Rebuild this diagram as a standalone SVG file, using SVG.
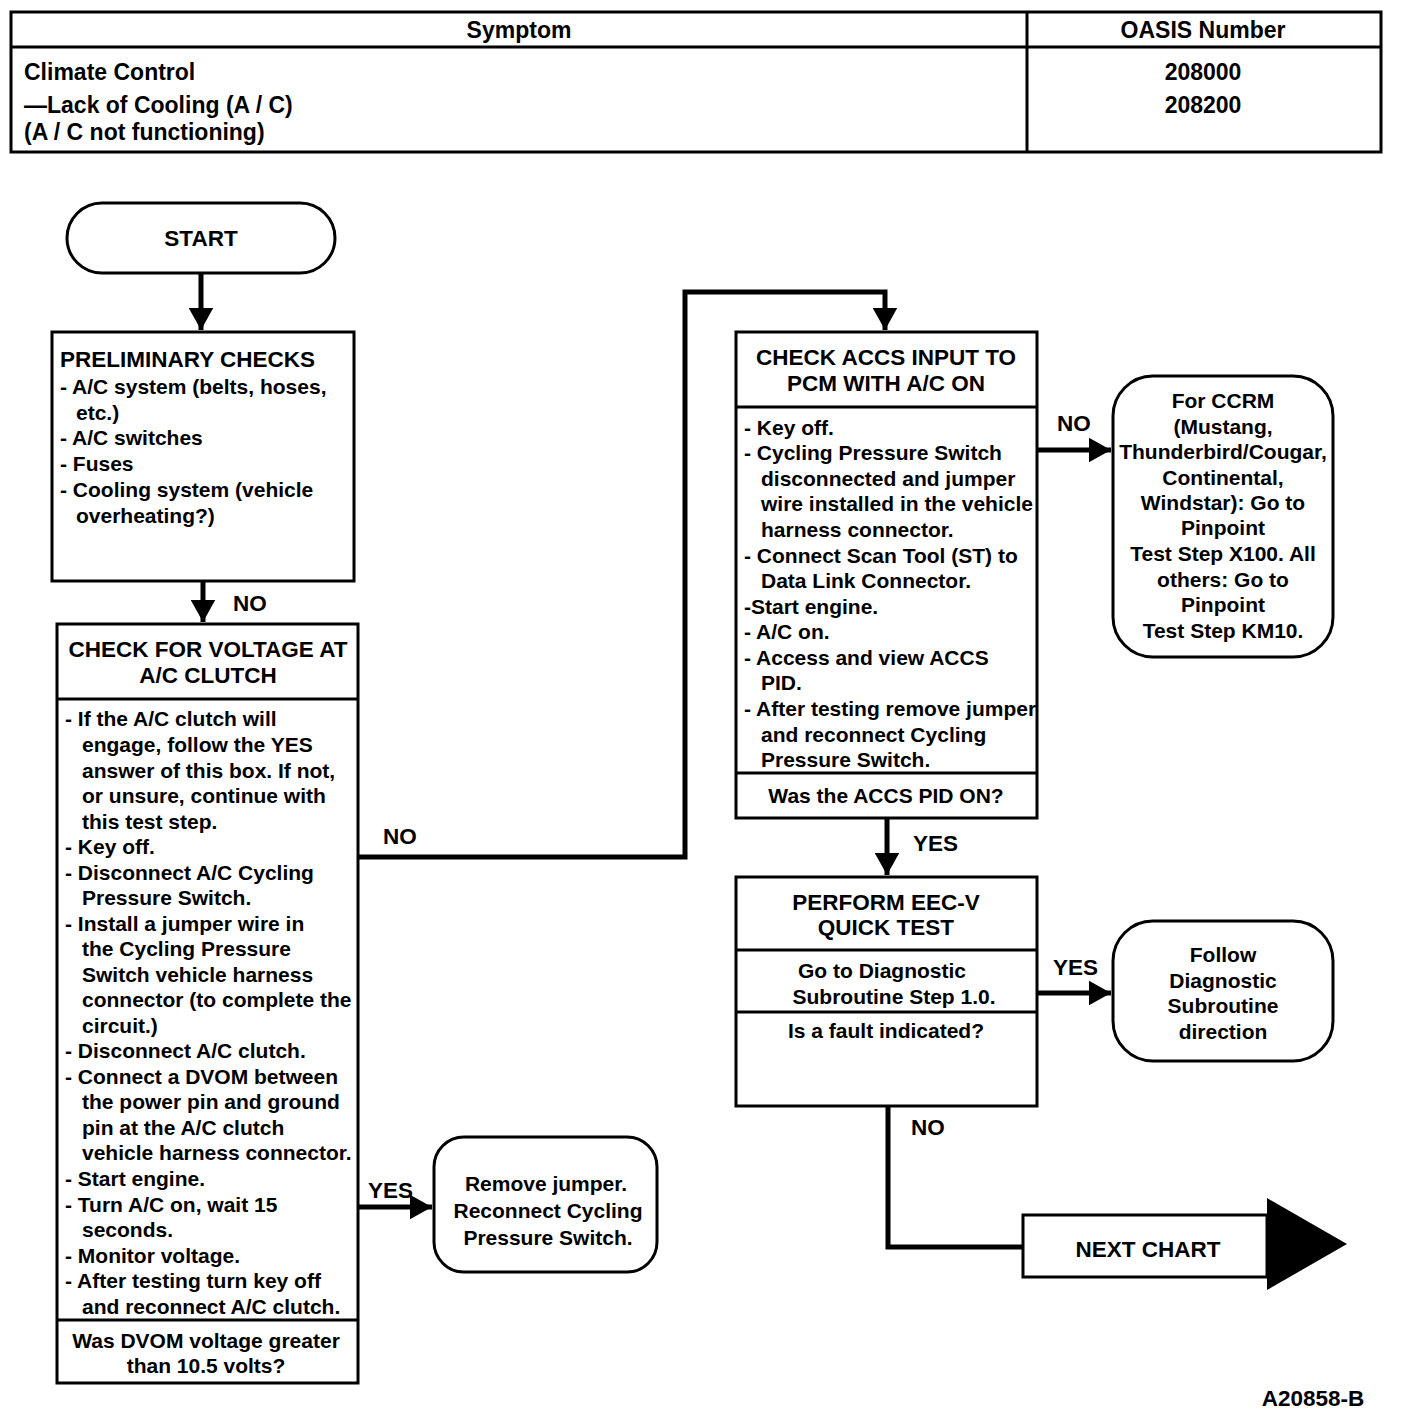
<svg xmlns="http://www.w3.org/2000/svg" width="1408" height="1414" viewBox="0 0 1408 1414">
<defs>
<style>
text{font-family:"Liberation Sans",Arial,sans-serif;font-weight:bold;font-size:21px;fill:#000;dominant-baseline:central}
.c{text-anchor:middle}
.u{font-size:22.5px}
.t{font-size:23px}
.box{fill:#fff;stroke:#000;stroke-width:3}
.ln{fill:none;stroke:#000;stroke-width:3}
.wire{fill:none;stroke:#000;stroke-width:5}
</style>
<marker id="ah" markerWidth="5" markerHeight="5" refX="4.5" refY="2.5" orient="auto" markerUnits="strokeWidth" viewBox="0 0 5 5">
<path d="M0,0 L4.5,2.5 L0,5 z" fill="#000"/>
</marker>
</defs>
<rect width="1408" height="1414" fill="#fff"/>

<g id="table">
<rect x="11" y="12" width="1370" height="140" class="box"/>
<line x1="11" y1="47" x2="1381" y2="47" class="ln"/>
<line x1="1027" y1="12" x2="1027" y2="152" class="ln"/>
<text x="519" y="30" class="c t">Symptom</text>
<text x="1203" y="30" class="c t">OASIS Number</text>
<text x="24" y="72" class="t">Climate Control</text>
<text x="24" y="105" class="t">—Lack of Cooling (A / C)</text>
<text x="24" y="132" class="t">(A / C not functioning)</text>
<text x="1203" y="72" class="c t">208000</text>
<text x="1203" y="105" class="c t">208200</text>
</g>

<g id="connectors">
<line x1="201" y1="273" x2="201" y2="330" class="wire" marker-end="url(#ah)"/>
<line x1="203" y1="581" x2="203" y2="622" class="wire" marker-end="url(#ah)"/>
<text x="233" y="603" class="u">NO</text>
<polyline points="358,857 685,857 685,292 885,292 885,330" class="wire" marker-end="url(#ah)"/>
<text x="383" y="836" class="u">NO</text>
<line x1="358" y1="1207" x2="432" y2="1207" class="wire" marker-end="url(#ah)"/>
<text x="368" y="1190" class="u">YES</text>
<line x1="1037" y1="450" x2="1111" y2="450" class="wire" marker-end="url(#ah)"/>
<text x="1057" y="423" class="u">NO</text>
<line x1="887" y1="818" x2="887" y2="875" class="wire" marker-end="url(#ah)"/>
<text x="913" y="843" class="u">YES</text>
<line x1="1037" y1="993" x2="1111" y2="993" class="wire" marker-end="url(#ah)"/>
<text x="1053" y="967" class="u">YES</text>
<polyline points="888,1106 888,1247 1023,1247" class="wire"/>
<text x="911" y="1127" class="u">NO</text>
</g>

<g id="start">
<rect x="67" y="203" width="268" height="70" rx="35" class="box"/>
<text x="201" y="238" class="c u">START</text>
</g>

<g id="preliminary">
<rect x="52" y="332" width="302" height="249" class="box"/>
<text x="60" y="359" class="u">PRELIMINARY CHECKS</text>
<text x="60" y="386">- A/C system (belts, hoses,</text>
<text x="76" y="412">etc.)</text>
<text x="60" y="437">- A/C switches</text>
<text x="60" y="463">- Fuses</text>
<text x="60" y="489">- Cooling system (vehicle</text>
<text x="76" y="515">overheating?)</text>
</g>

<g id="check-voltage">
<rect x="57" y="624" width="301" height="759" class="box"/>
<line x1="57" y1="699" x2="358" y2="699" class="ln"/>
<line x1="57" y1="1320" x2="358" y2="1320" class="ln"/>
<text x="208" y="649" class="c u">CHECK FOR VOLTAGE AT</text>
<text x="208" y="675" class="c u">A/C CLUTCH</text>
<text x="65" y="718">- If the A/C clutch will</text>
<text x="82" y="744">engage, follow the YES</text>
<text x="82" y="770">answer of this box. If not,</text>
<text x="82" y="795">or unsure, continue with</text>
<text x="82" y="821">this test step.</text>
<text x="65" y="846">- Key off.</text>
<text x="65" y="872">- Disconnect A/C Cycling</text>
<text x="82" y="897">Pressure Switch.</text>
<text x="65" y="923">- Install a jumper wire in</text>
<text x="82" y="948">the Cycling Pressure</text>
<text x="82" y="974">Switch vehicle harness</text>
<text x="82" y="999">connector (to complete the</text>
<text x="82" y="1025">circuit.)</text>
<text x="65" y="1050">- Disconnect A/C clutch.</text>
<text x="65" y="1076">- Connect a DVOM between</text>
<text x="82" y="1101">the power pin and ground</text>
<text x="82" y="1127">pin at the A/C clutch</text>
<text x="82" y="1152">vehicle harness connector.</text>
<text x="65" y="1178">- Start engine.</text>
<text x="65" y="1204">- Turn A/C on, wait 15</text>
<text x="82" y="1229">seconds.</text>
<text x="65" y="1255">- Monitor voltage.</text>
<text x="65" y="1280">- After testing turn key off</text>
<text x="82" y="1306">and reconnect A/C clutch.</text>
<text x="206" y="1340" class="c">Was DVOM voltage greater</text>
<text x="206" y="1365" class="c">than 10.5 volts?</text>
</g>

<g id="remove-jumper">
<rect x="434" y="1137" width="223" height="135" rx="30" class="box"/>
<text x="546" y="1183" class="c">Remove jumper.</text>
<text x="548" y="1210" class="c">Reconnect Cycling</text>
<text x="548" y="1237" class="c">Pressure Switch.</text>
</g>

<g id="check-accs">
<rect x="736" y="332" width="301" height="486" class="box"/>
<line x1="736" y1="407" x2="1037" y2="407" class="ln"/>
<line x1="736" y1="773" x2="1037" y2="773" class="ln"/>
<text x="886" y="357" class="c u">CHECK ACCS INPUT TO</text>
<text x="886" y="383" class="c u">PCM WITH A/C ON</text>
<text x="744" y="427">- Key off.</text>
<text x="744" y="452">- Cycling Pressure Switch</text>
<text x="761" y="478">disconnected and jumper</text>
<text x="761" y="503">wire installed in the vehicle</text>
<text x="761" y="529">harness connector.</text>
<text x="744" y="555">- Connect Scan Tool (ST) to</text>
<text x="761" y="580">Data Link Connector.</text>
<text x="744" y="606">-Start engine.</text>
<text x="744" y="631">- A/C on.</text>
<text x="744" y="657">- Access and view ACCS</text>
<text x="761" y="682">PID.</text>
<text x="744" y="708">- After testing remove jumper</text>
<text x="761" y="734">and reconnect Cycling</text>
<text x="761" y="759">Pressure Switch.</text>
<text x="886" y="795" class="c">Was the ACCS PID ON?</text>
</g>

<g id="ccrm">
<rect x="1113" y="376" width="220" height="281" rx="40" class="box"/>
<text x="1223" y="400" class="c">For CCRM</text>
<text x="1223" y="426" class="c">(Mustang,</text>
<text x="1223" y="451" class="c">Thunderbird/Cougar,</text>
<text x="1223" y="477" class="c">Continental,</text>
<text x="1223" y="502" class="c">Windstar): Go to</text>
<text x="1223" y="527" class="c">Pinpoint</text>
<text x="1223" y="553" class="c">Test Step X100. All</text>
<text x="1223" y="579" class="c">others: Go to</text>
<text x="1223" y="604" class="c">Pinpoint</text>
<text x="1223" y="630" class="c">Test Step KM10.</text>
</g>

<g id="eec-quick-test">
<rect x="736" y="877" width="301" height="229" class="box"/>
<line x1="736" y1="950" x2="1037" y2="950" class="ln"/>
<line x1="736" y1="1012" x2="1037" y2="1012" class="ln"/>
<text x="886" y="902" class="c u">PERFORM EEC-V</text>
<text x="886" y="927" class="c u">QUICK TEST</text>
<text x="882" y="970" class="c">Go to Diagnostic</text>
<text x="894" y="996" class="c">Subroutine Step 1.0.</text>
<text x="886" y="1030" class="c">Is a fault indicated?</text>
</g>

<g id="follow-subroutine">
<rect x="1113" y="921" width="220" height="140" rx="40" class="box"/>
<text x="1223" y="954" class="c">Follow</text>
<text x="1223" y="980" class="c">Diagnostic</text>
<text x="1223" y="1005" class="c">Subroutine</text>
<text x="1223" y="1031" class="c">direction</text>
</g>

<g id="next-chart">
<rect x="1023" y="1215" width="244" height="62" class="box"/>
<polygon points="1267,1198 1347,1244 1267,1290" fill="#000"/>
<text x="1148" y="1249" class="c u">NEXT CHART</text>
</g>

<text x="1313" y="1398" class="c u">A20858-B</text>
</svg>
